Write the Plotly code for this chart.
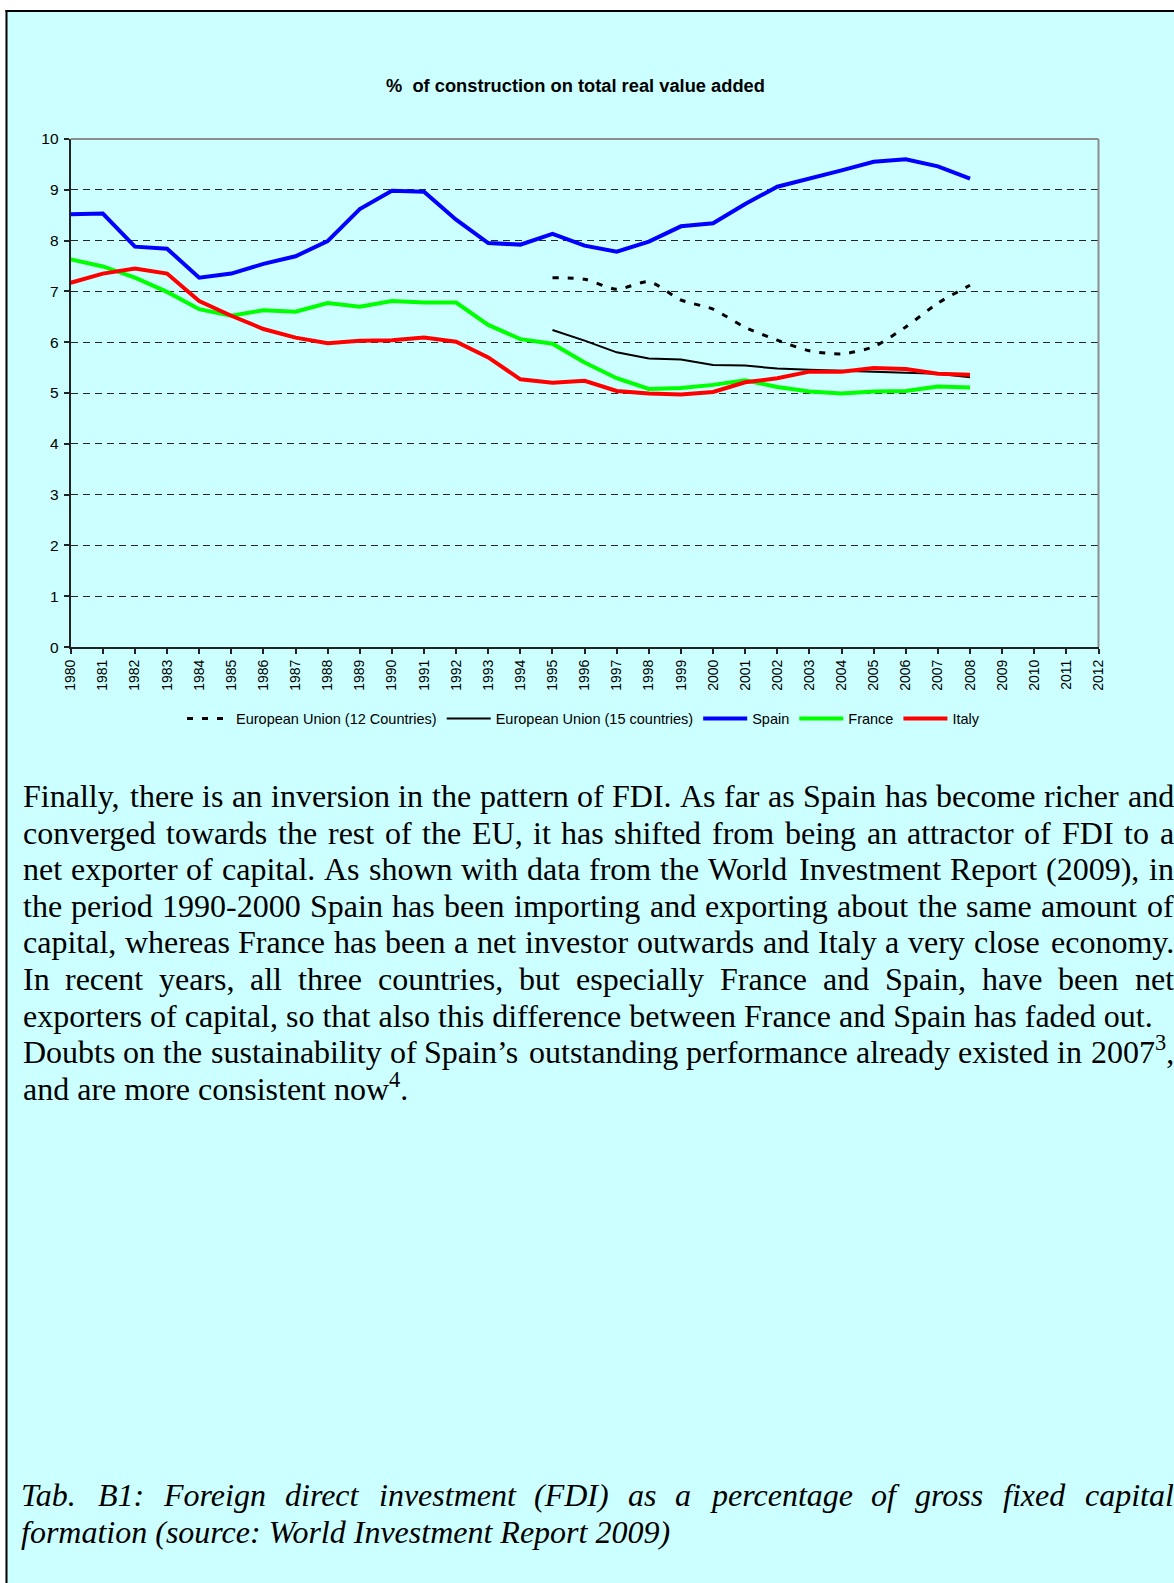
import plotly.graph_objects as go
import re

# page size; plotly keeps an 8px band around the paper area
W, H = 1174, 1583
PX0, PY0 = 8, 8            # page position of paper (0, top)
PW, PH = W - 16, H - 16    # paper area size in px

# ---------------- data ----------------
years = list(range(1980, 2009))
years_eu = list(range(1995, 2009))
spain = [8.52, 8.53, 7.88, 7.84, 7.27, 7.35, 7.54, 7.69, 7.99, 8.62, 8.98, 8.96, 8.41, 7.95, 7.92,
         8.13, 7.90, 7.78, 7.98, 8.28, 8.34, 8.72, 9.06, 9.21, 9.38, 9.55, 9.60, 9.46, 9.22]
france = [7.63, 7.49, 7.27, 6.99, 6.65, 6.52, 6.63, 6.60, 6.77, 6.70, 6.81, 6.78, 6.78, 6.34, 6.06,
          5.97, 5.60, 5.29, 5.08, 5.10, 5.16, 5.25, 5.12, 5.03, 4.99, 5.03, 5.04, 5.13, 5.11]
italy = [7.17, 7.35, 7.45, 7.35, 6.81, 6.52, 6.26, 6.09, 5.98, 6.03, 6.04, 6.09, 6.01, 5.70, 5.27,
         5.20, 5.24, 5.04, 4.99, 4.97, 5.02, 5.21, 5.29, 5.42, 5.42, 5.49, 5.47, 5.38, 5.36]
eu15 = [6.24, 6.03, 5.80, 5.68, 5.66, 5.55, 5.54, 5.48, 5.46, 5.44, 5.41, 5.40, 5.38, 5.31]
eu12 = [7.27, 7.24, 7.04, 7.19, 6.83, 6.65, 6.29, 6.04, 5.83, 5.77, 5.91, 6.30, 6.77, 7.12]

x_ticks = list(range(1980, 2013))
x_labels = [str(v) for v in x_ticks]
y_ticks = list(range(0, 11))
y_labels = [str(v) for v in y_ticks]

title_text = "%\u00a0 of construction on total real value added"
series_names = ["European Union (12 Countries)", "European Union (15 countries)", "Spain", "France", "Italy"]

para_lines = [
    ("Finally, there is an inversion in the pattern of FDI. As far as Spain has become richer and", True),
    ("converged towards the rest of the EU, it has shifted from being an attractor of FDI to a", True),
    ("net exporter of capital. As shown with data from the World Investment Report (2009), in", True),
    ("the period 1990-2000 Spain has been importing and exporting about the same amount of", True),
    ("capital, whereas France has been a net investor outwards and Italy a very close economy.", True),
    ("In recent years, all three countries, but especially France and Spain, have been net", True),
    ("exporters of capital, so that also this difference between France and Spain has faded out.", False),
    ("Doubts on the sustainability of Spain\u2019s outstanding performance already existed in 2007<sup>3</sup>,", True),
    ("and are more consistent now<sup>4</sup>.", False),
]
caption_lines = [
    ("Tab. B1: Foreign direct investment (FDI) as a percentage of gross fixed capital", True),
    ("formation (source: World Investment Report 2009)", False),
]

# ---------------- helpers (page pixel -> paper) ----------------
def px(x):
    return (x - PX0) / PW

def py(y):
    return 1 - (y - PY0) / PH

ROMAN = {' ': 250, ',': 250, '-': 333, '.': 250, ':': 278, '(': 333, ')': 333, '\u2019': 333,
         'A': 722, 'B': 667, 'C': 667, 'D': 722, 'E': 611, 'F': 556, 'G': 722, 'H': 722, 'I': 333,
         'J': 389, 'K': 722, 'L': 611, 'M': 889, 'N': 722, 'O': 722, 'P': 556, 'Q': 722, 'R': 667,
         'S': 556, 'T': 611, 'U': 722, 'V': 722, 'W': 944, 'X': 722, 'Y': 722, 'Z': 611,
         'a': 444, 'b': 500, 'c': 444, 'd': 500, 'e': 444, 'f': 333, 'g': 500, 'h': 500, 'i': 278,
         'j': 278, 'k': 500, 'l': 278, 'm': 778, 'n': 500, 'o': 500, 'p': 500, 'q': 500, 'r': 333,
         's': 389, 't': 278, 'u': 500, 'v': 500, 'w': 722, 'x': 500, 'y': 500, 'z': 444}
ITALIC = {' ': 250, ',': 250, '-': 333, '.': 250, ':': 333, '(': 333, ')': 333, '\u2019': 333,
          'A': 611, 'B': 611, 'C': 667, 'D': 722, 'E': 611, 'F': 611, 'G': 722, 'H': 722, 'I': 333,
          'J': 444, 'K': 667, 'L': 556, 'M': 833, 'N': 667, 'O': 722, 'P': 611, 'Q': 722, 'R': 611,
          'S': 500, 'T': 556, 'U': 722, 'V': 611, 'W': 833, 'X': 611, 'Y': 556, 'Z': 556,
          'a': 500, 'b': 500, 'c': 444, 'd': 500, 'e': 444, 'f': 278, 'g': 500, 'h': 500, 'i': 278,
          'j': 278, 'k': 444, 'l': 278, 'm': 722, 'n': 500, 'o': 500, 'p': 500, 'q': 500, 'r': 389,
          's': 389, 't': 278, 'u': 500, 'v': 444, 'w': 667, 'x': 444, 'y': 444, 'z': 389}


def word_width(word, size, italic):
    table = ITALIC if italic else ROMAN
    total = 0.0
    for p in re.split(r'(<sup>.*?</sup>)', word):
        if p.startswith('<sup>'):
            total += 0.7 * sum(table.get(c, 500) for c in p[5:-6])
        else:
            total += sum(table.get(c, 500) for c in p)
    return total * size / 1000.0


FS = 32
LEFT, RIGHT = 22.5, 1173.5
annotations = []


def add_line(text, baseline, justify, italic, left):
    font = dict(family="Liberation Serif, Times New Roman, serif", size=FS, color="black",
                style="italic" if italic else "normal")
    yb = py(baseline + 6.9)   # bottom of the text box sits one descent below the baseline
    common = dict(y=yb, xref="paper", yref="paper", yanchor="bottom", showarrow=False,
                  font=font, borderpad=0, borderwidth=0)
    if not justify:
        annotations.append(dict(text=text, x=px(left), xanchor="left", **common))
        return
    words = text.split(" ")
    widths = [word_width(w, FS, italic) for w in words]
    gap = (RIGHT - left - sum(widths)) / (len(words) - 1)
    x = left
    for i, (w, ww) in enumerate(zip(words, widths)):
        if i == len(words) - 1:
            annotations.append(dict(text=w, x=px(RIGHT), xanchor="right", **common))
        else:
            annotations.append(dict(text=w, x=px(x), xanchor="left", **common))
        x += ww + gap


for k, (t, j) in enumerate(para_lines):
    add_line(t, 807.0 + 36.55 * k, j, False, LEFT)
for k, (t, j) in enumerate(caption_lines):
    add_line(t, 1506.5 + 36.3 * k, j, True, 21.0)

# chart title
annotations.append(dict(text="<b>" + title_text + "</b>", x=px(575.5), y=py(85), xref="paper", yref="paper",
                        xanchor="center", yanchor="middle", showarrow=False,
                        font=dict(family="Arial, Liberation Sans, sans-serif", size=18.3, color="black")))

# ---------------- figure ----------------
fig = go.Figure()
fig.add_trace(go.Scatter(x=years_eu, y=eu12, name=series_names[0], mode="lines",
                         line=dict(color="black", width=3, dash="6px,9px", shape="spline", smoothing=0.7)))
fig.add_trace(go.Scatter(x=years_eu, y=eu15, name=series_names[1], mode="lines",
                         line=dict(color="black", width=2)))
fig.add_trace(go.Scatter(x=years, y=spain, name=series_names[2], mode="lines",
                         line=dict(color="#0000FF", width=4)))
fig.add_trace(go.Scatter(x=years, y=france, name=series_names[3], mode="lines",
                         line=dict(color="#00FF00", width=4)))
fig.add_trace(go.Scatter(x=years, y=italy, name=series_names[4], mode="lines",
                         line=dict(color="#FF0000", width=4)))

shapes = [
    # white page margin outside the frame
    dict(type="rect", xref="paper", yref="paper", x0=px(-2), x1=px(5.5), y0=py(H + 2), y1=py(-2),
         fillcolor="white", line=dict(width=0), layer="above"),
    dict(type="rect", xref="paper", yref="paper", x0=px(-2), x1=px(W + 2), y0=py(9), y1=py(-2),
         fillcolor="white", line=dict(width=0), layer="above"),
    # black frame (left and top)
    dict(type="line", xref="paper", yref="paper", x0=px(6.5), x1=px(6.5), y0=py(H + 2), y1=py(9),
         line=dict(color="black", width=2)),
    dict(type="line", xref="paper", yref="paper", x0=px(5.5), x1=px(W + 2), y0=py(10), y1=py(10),
         line=dict(color="black", width=2)),
    # plot-area border (top and right)
    dict(type="line", xref="x domain", yref="y domain", x0=0, x1=1, y0=1, y1=1,
         line=dict(color="#8c8c8c", width=2)),
    dict(type="line", xref="x domain", yref="y domain", x0=1, x1=1, y0=0, y1=1,
         line=dict(color="#8c8c8c", width=2)),
]

axis_font = dict(family="Arial, Liberation Sans, sans-serif", color="black")
fig.update_layout(
    width=W, height=H,
    margin=dict(l=0, r=0, t=0, b=0, pad=0),
    paper_bgcolor="#CCFFFF",
    plot_bgcolor="#CCFFFF",
    showlegend=True,
    legend=dict(orientation="h", x=px(583.5), xanchor="center", y=py(718), yanchor="middle",
                bgcolor="rgba(0,0,0,0)", font=dict(family="Arial, Liberation Sans, sans-serif",
                                                     size=14.5, color="black"),
                itemwidth=44, traceorder="normal"),
    xaxis=dict(domain=[px(70.7), px(1098.5)], range=[1980, 2012], tickmode="array",
               tickvals=x_ticks, ticktext=x_labels, tickangle=-90, ticks="outside", ticklen=5,
               tickwidth=1.5, tickcolor="#222222", showline=True, linecolor="#222222", linewidth=2,
               showgrid=False, zeroline=False, tickfont=dict(size=14, **axis_font), fixedrange=True),
    yaxis=dict(domain=[py(646.5), py(138)], range=[0, 10], tickmode="array", tickvals=y_ticks,
               ticktext=y_labels, ticks="outside", ticklen=5, tickwidth=1.5, tickcolor="#222222",
               showline=True, linecolor="#222222", linewidth=2, showgrid=True, gridcolor="#262626",
               gridwidth=1, griddash="7px,5px", zeroline=False, tickfont=dict(size=15.5, **axis_font),
               ticklabelstandoff=2, fixedrange=True),
    shapes=shapes,
    annotations=annotations,
)

fig.write_html("out.html", config={"displayModeBar": False},
               post_script="document.body.style.margin='0';document.body.style.overflow='hidden';")
